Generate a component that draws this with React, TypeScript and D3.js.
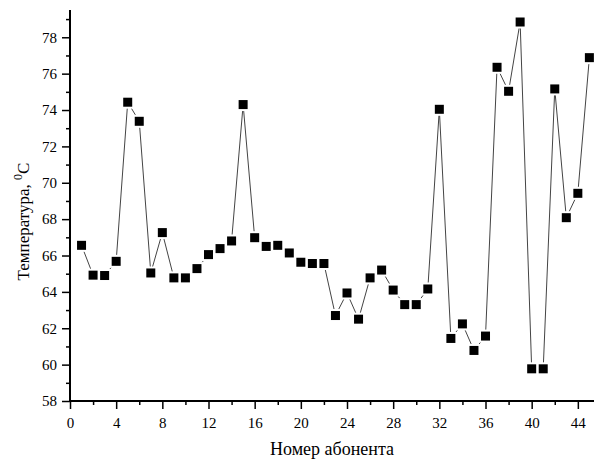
import React, { useEffect, useRef } from "react";
import * as d3 from "d3";

const W = 597;
const H = 460;

// subscriber number and temperature
const subscribers = d3.range(1, 46);
const temperatures = [
  66.56, 64.92, 64.9, 65.68, 74.43, 73.38, 65.04, 67.26, 64.77, 64.77,
  65.28, 66.05, 66.38, 66.8, 74.3, 66.98, 66.5, 66.56, 66.14, 65.63,
  65.56, 65.56, 62.7, 63.94, 62.5, 64.77, 65.2, 64.1, 63.3, 63.3,
  64.16, 74.04, 61.44, 62.24, 60.78, 61.57, 76.35, 75.03, 78.84, 59.77,
  59.77, 75.16, 68.08, 69.42, 76.88,
];

const xTicks = [0, 4, 8, 12, 16, 20, 24, 28, 32, 36, 40, 44];
const yTicks = [58, 60, 62, 64, 66, 68, 70, 72, 74, 76, 78];

const margin = { left: 70, right: 3, top: 10, bottom: 59 };
const FONT = "Liberation Serif";

const App = () => {
  const svgRef = useRef(null);

  useEffect(() => {
    const svg = d3.select(svgRef.current);
    svg.selectAll("*").remove();

    const x = d3.scaleLinear().domain([0, 45.4]).range([margin.left, W - margin.right]);
    const y = d3.scaleLinear().domain([58, 79.5]).range([H - margin.bottom, margin.top]);

    const data = subscribers.map((s, i) => ({ s, t: temperatures[i] }));

    // connecting line
    const line = d3.line().x((d) => x(d.s)).y((d) => y(d.t));
    svg.append("path")
      .datum(data)
      .attr("d", line)
      .attr("fill", "none")
      .attr("stroke", "#444")
      .attr("stroke-width", 1);

    // white halo so the line stops short of the markers
    svg.selectAll(".halo")
      .data(data)
      .enter()
      .append("rect")
      .attr("x", (d) => x(d.s) - 6.5)
      .attr("y", (d) => y(d.t) - 6.5)
      .attr("width", 13)
      .attr("height", 13)
      .attr("fill", "white");

    svg.selectAll(".pt")
      .data(data)
      .enter()
      .append("rect")
      .attr("x", (d) => x(d.s) - 4.5)
      .attr("y", (d) => y(d.t) - 4.5)
      .attr("width", 9)
      .attr("height", 9)
      .attr("fill", "black");

    // x axis
    const xAxis = d3.axisBottom(x)
      .tickValues(d3.range(0, 46, 2))
      .tickSize(5)
      .tickFormat((d) => (xTicks.includes(d) ? String(d) : ""));
    const gx = svg.append("g")
      .attr("transform", `translate(0,${H - margin.bottom})`)
      .call(xAxis)
      .attr("font-family", FONT);
    gx.select(".domain").attr("stroke-width", 2).attr("d", `M${margin.left},0H${W - margin.right}`);
    gx.selectAll(".tick line")
      .attr("stroke-width", 1.5)
      .attr("y2", (d) => (xTicks.includes(d) ? 8 : 4));
    gx.selectAll(".tick text")
      .attr("y", 16)
      .style("font-family", FONT)
      .style("font-size", "15px");

    // y axis
    const yAxis = d3.axisLeft(y)
      .tickValues(d3.range(58, 80, 1))
      .tickSize(5)
      .tickFormat((d) => (yTicks.includes(d) ? String(d) : ""));
    const gy = svg.append("g")
      .attr("transform", `translate(${margin.left},0)`)
      .call(yAxis)
      .attr("font-family", FONT);
    gy.select(".domain").attr("stroke-width", 2).attr("d", `M0,${H - margin.bottom}V${margin.top}`);
    gy.selectAll(".tick line")
      .attr("stroke-width", 1.5)
      .attr("x2", (d) => (yTicks.includes(d) ? -8 : -4));
    gy.selectAll(".tick text")
      .attr("x", -13)
      .style("font-family", FONT)
      .style("font-size", "15px");

    // axis titles
    svg.append("text")
      .attr("x", (margin.left + W - margin.right) / 2)
      .attr("y", 455)
      .attr("text-anchor", "middle")
      .style("font-family", FONT)
      .style("font-size", "18px")
      .text("Номер абонента");

    const yt = svg.append("text")
      .attr("transform", `translate(29,${(H - margin.bottom + margin.top) / 2 + 16}) rotate(-90)`)
      .attr("text-anchor", "middle")
      .style("font-family", FONT)
      .style("font-size", "17px");
    yt.append("tspan").text("Температура, ");
    yt.append("tspan").attr("dy", -7).style("font-size", "12px").text("0");
    yt.append("tspan").attr("dy", 7).text("C");
  }, []);

  return (
    <svg
      ref={svgRef}
      width={W}
      height={H}
      style={{ position: "absolute", left: 0, top: 0, background: "white" }}
    />
  );
};

export default App;
